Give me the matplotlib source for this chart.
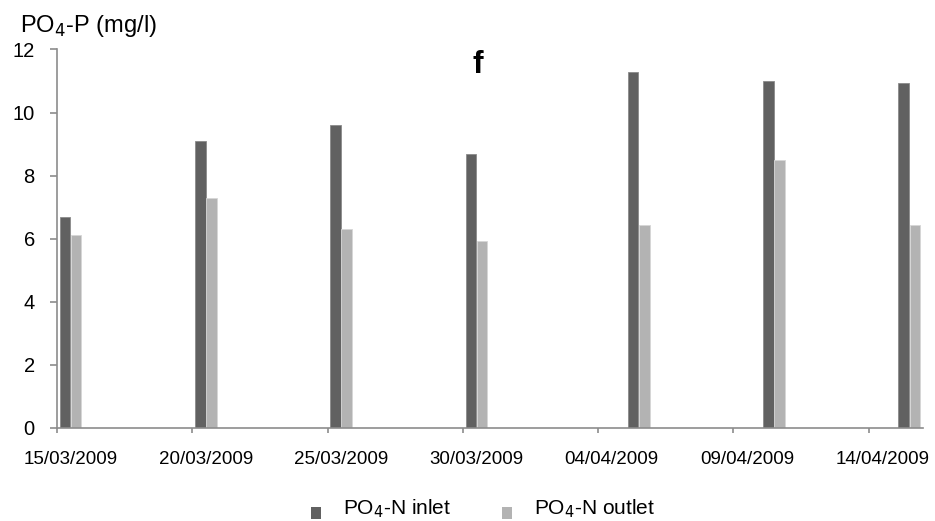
import datetime as dt
import matplotlib
matplotlib.use("Agg")
import matplotlib.pyplot as plt
from matplotlib.patches import Patch

plt.rcParams["font.family"] = ["Liberation Sans", "DejaVu Sans"]

# sampling dates and measured PO4 concentrations (mg/l)
dates = ["15/03/2009", "20/03/2009", "25/03/2009", "30/03/2009",
         "05/04/2009", "10/04/2009", "15/04/2009"]
inlet = [6.7, 9.1, 9.6, 8.7, 11.3, 11.0, 10.93]
outlet = [6.1, 7.3, 6.3, 5.93, 6.42, 8.5, 6.42]

tick_dates = ["15/03/2009", "20/03/2009", "25/03/2009", "30/03/2009",
              "04/04/2009", "09/04/2009", "14/04/2009"]
y_ticks = [0, 2, 4, 6, 8, 10, 12]

to_date = lambda s: dt.datetime.strptime(s, "%d/%m/%Y")
days = [to_date(d) for d in dates]
half_day = dt.timedelta(hours=12)

inlet_col = "#616161"
outlet_col = "#b3b3b3"
axis_col = "#8c8c8c"

fig = plt.figure(figsize=(9.35, 5.21), dpi=100)
ax = fig.add_axes([0.061, 0.179, 0.926, 0.726])

w = 0.39
ax.bar([d + dt.timedelta(days=0.1) for d in days], inlet, width=w, align="edge",
       color=inlet_col, edgecolor="#8a8a8a", linewidth=0.6, zorder=2)
ax.bar([d + dt.timedelta(days=0.51) for d in days], outlet, width=w, align="edge",
       color=outlet_col, edgecolor="#d6d6d6", linewidth=0.6, zorder=2)

ax.set_xlim(to_date("15/03/2009"), to_date("15/03/2009") + dt.timedelta(days=32))
ax.set_ylim(0, 12)

# tick marks on the day boundary, labels centred on the day slot (Excel date axis)
ax.set_xticks([to_date(t) for t in tick_dates])
ax.set_xticklabels([])
ax.set_xticks([to_date(t) + half_day for t in tick_dates], minor=True)
ax.set_xticklabels(tick_dates, minor=True)
ax.set_yticks(y_ticks)

for s in ["top", "right"]:
    ax.spines[s].set_visible(False)
for s in ["left", "bottom"]:
    ax.spines[s].set_color(axis_col)
    ax.spines[s].set_linewidth(1.2)
ax.tick_params(axis="x", which="major", colors=axis_col, length=3.6, width=1.2)
ax.tick_params(axis="x", which="minor", length=0, labelsize=13.5, pad=17)
ax.tick_params(axis="y", colors=axis_col, length=5, width=1.2, labelcolor="black",
               labelsize=14.5, pad=11)

fig.text(0.021, 0.9386, "PO$_4$-P (mg/l)", fontsize=17, ha="left", va="baseline")
fig.text(0.511, 0.859, "f", fontsize=23, fontweight="bold", ha="center", va="baseline")

handles = [Patch(facecolor=inlet_col, label="PO$_4$-N inlet"),
           Patch(facecolor=outlet_col, label="PO$_4$-N outlet")]
leg = fig.legend(handles=handles, loc="center", bbox_to_anchor=(0.5166, 0.024), ncol=2,
                 frameon=False, fontsize=15, handlelength=0.48, handleheight=0.48,
                 handletextpad=1.05, columnspacing=2.4, borderpad=0)
# Excel puts the legend squares a little below the text centre
for h in leg.legend_handles:
    h.set_y(h.get_y() - 4.5)

fig.savefig("out.png", dpi=100)
